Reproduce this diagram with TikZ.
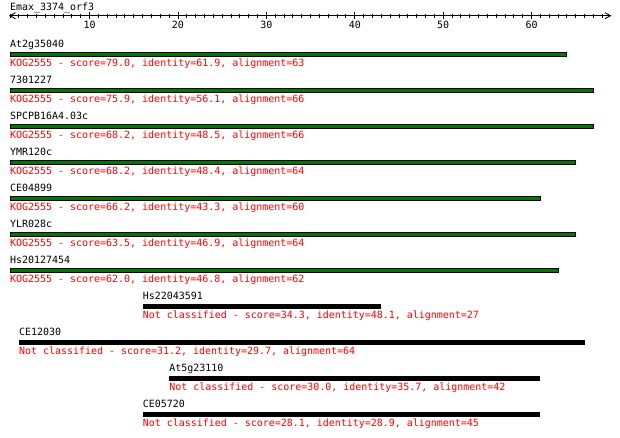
\documentclass[tikz,border=0pt]{standalone}
\usepackage{fontspec}
\setmonofont{DejaVu Sans Mono}
\definecolor{kgreen}{RGB}{0,120,0}
\definecolor{kred}{RGB}{255,0,0}
\tikzset{
  lbl/.style={anchor=base west,inner sep=0pt,font=\ttfamily\fontsize{9.97}{10}\selectfont,text=black},
  info/.style={anchor=base west,inner sep=0pt,font=\ttfamily\fontsize{9.97}{10}\selectfont,text=kred},
  num/.style={anchor=base,inner sep=0pt,font=\ttfamily\fontsize{9.97}{10}\selectfont,text=black},
  gbar/.style={fill=kgreen,draw=black,line width=1pt},
  bbar/.style={fill=black},
  rul/.style={line width=0.9pt,draw=black}
}
\begin{document}
\begin{tikzpicture}[x=1pt,y=-1pt]
\useasboundingbox (0,0) rectangle (620,437);
% title
\node[lbl] (title) at (10,10) {Emax\_3374\_orf3};
% ruler
\draw[rul] (10,15.7) -- (610,15.7);
\draw[rul] (15.5,12.7) -- (10,15.7) -- (15.5,18.7);
\draw[rul] (605,12.7) -- (610.5,15.7) -- (605,18.7);
\foreach \p in {1,...,68}{
  \pgfmathsetmacro{\xx}{10+(\p-1)*8.84}
  \pgfmathtruncatemacro{\mm}{mod(\p,10)}
  \ifnum\mm=0
    \draw[rul] (\xx,12.3) -- (\xx,19.3);
  \else
    \draw[rul] (\xx,13.5) -- (\xx,18);
  \fi
}
\foreach \v in {10,20,30,40,50,60}{
  \node[num] (n\v) at ({10+(\v-1)*8.84},28.3) {\v};
}
% rows
\foreach \k/\nm/\s/\e/\sty/\txt in {
 0/At2g35040/1/64/gbar/{KOG2555 - score=79.0, identity=61.9, alignment=63},
 1/7301227/1/67/gbar/{KOG2555 - score=75.9, identity=56.1, alignment=66},
 2/SPCPB16A4.03c/1/67/gbar/{KOG2555 - score=68.2, identity=48.5, alignment=66},
 3/YMR120c/1/65/gbar/{KOG2555 - score=68.2, identity=48.4, alignment=64},
 4/CE04899/1/61/gbar/{KOG2555 - score=66.2, identity=43.3, alignment=60},
 5/YLR028c/1/65/gbar/{KOG2555 - score=63.5, identity=46.9, alignment=64},
 6/Hs20127454/1/63/gbar/{KOG2555 - score=62.0, identity=46.8, alignment=62},
 7/Hs22043591/16/43/bbar/{Not classified - score=34.3, identity=48.1, alignment=27},
 8/CE12030/2/66/bbar/{Not classified - score=31.2, identity=29.7, alignment=64},
 9/At5g23110/19/61/bbar/{Not classified - score=30.0, identity=35.7, alignment=42},
 10/CE05720/16/61/bbar/{Not classified - score=28.1, identity=28.9, alignment=45}}{
  \pgfmathsetmacro{\yy}{54.5+36*\k}
  \pgfmathsetmacro{\xa}{10+(\s-1)*8.84}
  \pgfmathsetmacro{\xb}{10+(\e-1)*8.84}
  \path[\sty] (\xa,\yy-2.2) rectangle (\xb,\yy+2.2);
  \node[lbl] (name\k) at (\xa,\yy-6.8) {\nm};
  \node[info] (info\k) at (\xa,\yy+11.5) {\txt};
}
\end{tikzpicture}
\end{document}
